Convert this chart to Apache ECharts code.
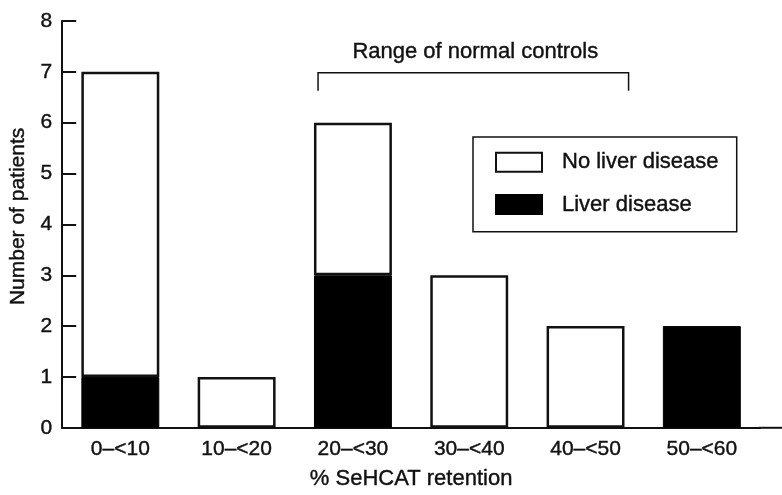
<!DOCTYPE html>
<html>
<head>
<meta charset="utf-8">
<script src="https://cdn.jsdelivr.net/npm/echarts@6/dist/echarts.min.js"></script>
<style>
html,body{margin:0;padding:0;background:#fff;}
#chart{width:782px;height:495px;}
</style>
</head>
<body>
<div id="chart"></div>
<script>
// ---- data ----
var categories = ['0–<10', '10–<20', '20–<30', '30–<40', '40–<50', '50–<60'];
var liverDisease = [1, 0, 3, 0, 0, 2];
var noLiverDisease = [6, 1, 3, 3, 2, 0];
var yTicks = [0, 1, 2, 3, 4, 5, 6, 7, 8];
var normalRange = [22, 48.7];          // % SeHCAT retention, range of normal controls
var normalRangeLabel = 'Range of normal controls';
var bracketLevel = 7;                  // y value at which the bracket is drawn

var FONT = '"Liberation Sans", Arial, Helvetica, sans-serif';
var INK = '#111';
var THICK = {textBorderColor: INK, textBorderWidth: 0.4};

function nz(v) { return v === 0 ? '-' : v; }

var chart = echarts.init(document.getElementById('chart'), null, {renderer: 'canvas'});

var option = {
  animation: false,
  backgroundColor: '#fff',
  textStyle: {fontFamily: FONT, color: INK},
  grid: {left: 62, right: 22, top: 21, bottom: 65, containLabel: false},
  legend: {
    orient: 'vertical',
    left: 473,
    top: 137,
    padding: [14, 18, 16, 22],
    itemWidth: 46,
    itemHeight: 19,
    itemGap: 20,
    borderColor: INK,
    borderWidth: 1.5,
    backgroundColor: '#fff',
    icon: 'rect',
    selectedMode: false,
    data: ['No liver disease', 'Liver disease'],
    textStyle: Object.assign({fontFamily: FONT, fontSize: 22, color: INK, padding: [0, 0, 0, 15], lineHeight: 19}, THICK)
  },
  xAxis: {
    type: 'category',
    data: categories,
    boundaryGap: true,
    name: '% SeHCAT retention',
    nameLocation: 'middle',
    nameGap: 40,
    nameTextStyle: Object.assign({fontFamily: FONT, fontSize: 22, color: INK}, THICK),
    axisLine: {show: true, lineStyle: {color: INK, width: 2}},
    axisTick: {show: false},
    axisLabel: Object.assign({fontFamily: FONT, fontSize: 21, color: INK, margin: 11, interval: 0}, THICK),
    splitLine: {show: false}
  },
  yAxis: {
    type: 'value',
    min: yTicks[0],
    max: yTicks[yTicks.length - 1],
    interval: 1,
    name: 'Number of patients',
    nameLocation: 'middle',
    nameGap: 30,
    nameTextStyle: Object.assign({fontFamily: FONT, fontSize: 21, color: INK, padding: [0, 0, 0, 16]}, THICK),
    axisLine: {show: true, lineStyle: {color: INK, width: 2}},
    axisTick: {show: true, inside: true, length: 14, lineStyle: {color: INK, width: 2}},
    axisLabel: Object.assign({fontFamily: FONT, fontSize: 21, color: INK, margin: 10}, THICK),
    splitLine: {show: false}
  },
  series: [
    {
      name: 'Liver disease',
      type: 'bar',
      stack: 'patients',
      barWidth: '67%',
      data: liverDisease.map(nz),
      itemStyle: {color: '#000', borderColor: '#000', borderWidth: 1}
    },
    {
      name: 'No liver disease',
      type: 'bar',
      stack: 'patients',
      barWidth: '67%',
      data: noLiverDisease.map(nz),
      itemStyle: {color: '#fff', borderColor: INK, borderWidth: 2.5}
    }
  ]
};

chart.setOption(option);

// ---- bracket for range of normal controls + x-axis extension ----
function drawExtras() {
  var c0 = chart.convertToPixel({xAxisIndex: 0}, 0);
  var c1 = chart.convertToPixel({xAxisIndex: 0}, 1);
  var band = c1 - c0;
  var start = c0 - band / 2;
  function px(pct) { return start + pct / 10 * band; }
  var xl = px(normalRange[0]);
  var xr = px(normalRange[1]);
  var yb = chart.convertToPixel({yAxisIndex: 0}, bracketLevel) + 1;
  var y0 = chart.convertToPixel({yAxisIndex: 0}, 0);
  var gridRight = start + band * categories.length;
  chart.setOption({
    graphic: [
      {
        type: 'polyline',
        shape: {points: [[xl, yb + 18], [xl, yb], [xr, yb], [xr, yb + 18]]},
        style: {stroke: INK, lineWidth: 1.5, fill: null}
      },
      {
        type: 'text',
        x: (xl + xr) / 2 + 2,
        y: yb - 21,
        style: Object.assign({text: normalRangeLabel, fontFamily: FONT, fontSize: 22, fill: INK,
                textAlign: 'center', textVerticalAlign: 'middle', stroke: INK, lineWidth: 0.4})
      },
      {
        type: 'line',
        shape: {x1: gridRight - 1, y1: y0, x2: 782, y2: y0},
        style: {stroke: INK, lineWidth: 2}
      }
    ]
  });
}
drawExtras();
</script>
</body>
</html>
